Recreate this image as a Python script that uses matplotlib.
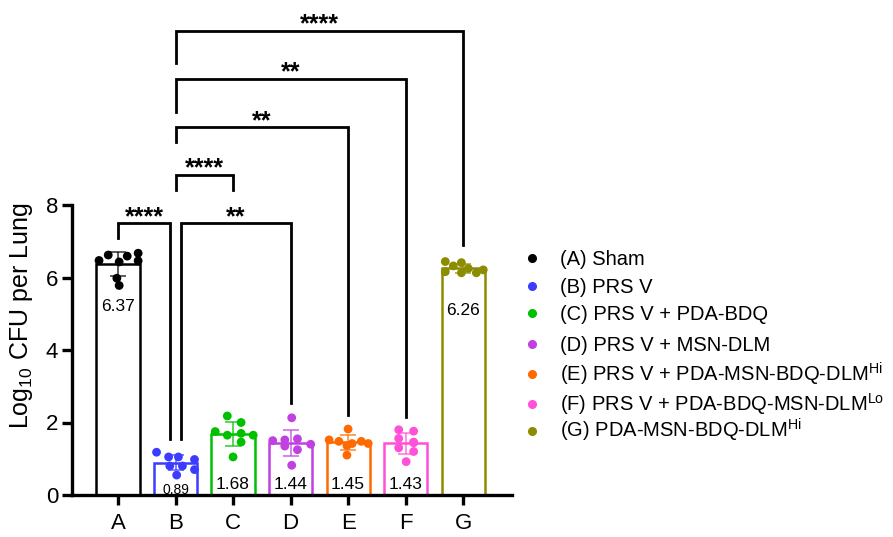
import matplotlib
matplotlib.use("Agg")
import matplotlib.pyplot as plt
from matplotlib.lines import Line2D
import numpy as np

plt.rcParams['font.family'] = ['Liberation Sans', 'DejaVu Sans']
plt.rcParams['mathtext.fontset'] = 'custom'
plt.rcParams['mathtext.rm'] = 'Liberation Sans'
plt.rcParams['mathtext.it'] = 'Liberation Sans:italic'
plt.rcParams['mathtext.bf'] = 'Liberation Sans:bold'

# ---- data -----------------------------------------------------------------
groups = ["A", "B", "C", "D", "E", "F", "G"]
legend_labels = [
    "(A) Sham",
    "(B) PRS V",
    "(C) PRS V + PDA-BDQ",
    "(D) PRS V + MSN-DLM",
    r"(E) PRS V + PDA-MSN-BDQ-DLM$^{\rm Hi}$",
    r"(F) PRS V + PDA-BDQ-MSN-DLM$^{\rm Lo}$",
    r"(G) PDA-MSN-BDQ-DLM$^{\rm Hi}$",
]
means = [6.37, 0.89, 1.68, 1.44, 1.45, 1.43, 6.26]

pts_A = [6.47, 6.62, 6.43, 6.59, 6.67, 6.46, 5.98, 5.78]
pts_B = [1.18, 1.05, 1.05, 0.98, 0.80, 0.80, 0.70, 0.55]
pts_C = [2.18, 2.00, 1.75, 1.65, 1.70, 1.65, 1.46, 1.05]
pts_D = [2.13, 1.50, 1.52, 1.55, 1.40, 1.35, 1.25, 0.82]
pts_E = [1.82, 1.52, 1.48, 1.42, 1.48, 1.42, 1.36, 1.10]
pts_F = [1.80, 1.76, 1.56, 1.44, 1.46, 1.30, 1.20, 0.92]
pts_G = [6.44, 6.32, 6.41, 6.25, 6.13, 6.21, 6.16, 6.13]
points = [pts_A, pts_B, pts_C, pts_D, pts_E, pts_F, pts_G]

# horizontal scatter of the individual animals within each bar
spread_A = [-0.33, -0.17, 0.02, 0.16, 0.35, 0.35, -0.02, 0.02]
spread_B = [-0.33, -0.12, 0.05, 0.33, -0.10, 0.12, 0.33, 0.02]
spread_C = [-0.10, 0.14, -0.31, -0.10, 0.14, 0.35, 0.14, 0.00]
spread_D = [0.02, -0.31, -0.10, 0.12, 0.35, -0.10, 0.12, 0.02]
spread_E = [0.00, -0.33, -0.16, 0.07, 0.23, 0.35, -0.02, -0.02]
spread_F = [-0.12, 0.14, -0.12, 0.14, 0.14, -0.12, 0.14, 0.01]
spread_G = [-0.31, -0.17, -0.03, 0.09, 0.23, 0.35, -0.31, -0.03]
spreads = [spread_A, spread_B, spread_C, spread_D, spread_E, spread_F, spread_G]

colors = ["#000000", "#3c3cff", "#00c000", "#c040e0", "#ff6a00", "#ff50d8", "#8c8c00"]

# significance comparisons: (left group, right group, stars)
comparisons = [("A", "B", "****"), ("B", "D", "**"), ("B", "C", "****"),
               ("B", "E", "**"), ("B", "F", "**"), ("B", "G", "****")]
# bracket geometry: (left x shift, right x shift, top, left end, right end)
bracket_geom = [(0.0, -0.1, 7.5, 7.09, 1.54),
                (0.1, 0.0, 7.5, 1.54, 2.54),
                (0.0, 0.0, 8.83, 8.41, 8.41),
                (0.0, 0.0, 10.14, 9.74, 2.2),
                (0.0, 0.0, 11.48, 10.57, 2.15),
                (0.0, 0.0, 12.81, 11.92, 6.9)]

# ---- figure ---------------------------------------------------------------
W, H = 893, 537
fig = plt.figure(figsize=(W / 100, H / 100), dpi=100)
ax = fig.add_axes([72 / W, (H - 495) / H, 440 / W, 290 / H])

x = np.arange(len(groups))
sds = [np.std(p, ddof=1) for p in points]

ax.bar(x, means, width=0.75, facecolor="white", edgecolor=colors,
       linewidth=1.8, zorder=2)
for xi, m, sd, c in zip(x, means, sds, colors):
    ax.errorbar(xi, m, yerr=sd, color=c, capsize=6, elinewidth=1.2,
                capthick=1.2, alpha=0.75, zorder=3)
for xi, pts, sp, c in zip(x, points, spreads, colors):
    ax.scatter(xi + np.array(sp), pts, s=40, color=c, edgecolors="none", zorder=4)

for xi, m in zip(x, means):
    if m > 3:
        ax.text(xi, m - 1.18, f"{m:.2f}", ha="center", va="center", fontsize=12.5)
    elif m < 1:
        ax.text(xi, 0.15, f"{m:.2f}", ha="center", va="center", fontsize=10)
    else:
        ax.text(xi, 0.3, f"{m:.2f}", ha="center", va="center", fontsize=12.5)

pos = {g: i for i, g in enumerate(groups)}
for (g1, g2, stars), (d1, d2, top, yl, yr) in zip(comparisons, bracket_geom):
    x1, x2 = pos[g1] + d1, pos[g2] + d2
    ax.plot([x1, x1, x2, x2], [yl, top, top, yr], color="black", lw=2.0,
            clip_on=False, solid_joinstyle="miter", zorder=5)
    ax.annotate(stars, xy=((x1 + x2) / 2, top), xytext=(0, -0.5),
                textcoords="offset points", ha="center", va="baseline",
                fontsize=18, fontweight="bold", annotation_clip=False)

ax.set_xlim(-0.8, 6.85)
ax.set_ylim(0, 8)
ax.set_yticks([0, 2, 4, 6, 8])
ax.set_xticks(x)
ax.set_xticklabels(groups)
ax.spines["top"].set_visible(False)
ax.spines["right"].set_visible(False)
ax.spines["left"].set_linewidth(2.4)
ax.spines["bottom"].set_linewidth(2.4)
ax.tick_params(axis="both", width=2.4, length=7, labelsize=16, pad=3)
ax.tick_params(axis="x", pad=6)

ax.set_ylabel(r"Log$_{\rm 10}$ CFU per Lung", fontsize=18)
ax.yaxis.set_label_coords(-0.083, 0.617)

# legend: coloured dot followed by group description, one row per group
row_y = [258, 286, 313, 344, 374, 404, 431]
for c, lab, ry in zip(colors, legend_labels, row_y):
    fig.add_artist(Line2D([532 / W], [1 - ry / H], marker="o", ls="none",
                          color=c, markersize=5.5, transform=fig.transFigure))
    fig.text(560 / W, 1 - (ry + 7) / H, lab, fontsize=14.5, ha="left",
             va="baseline")

fig.savefig("out.png", dpi=100)
